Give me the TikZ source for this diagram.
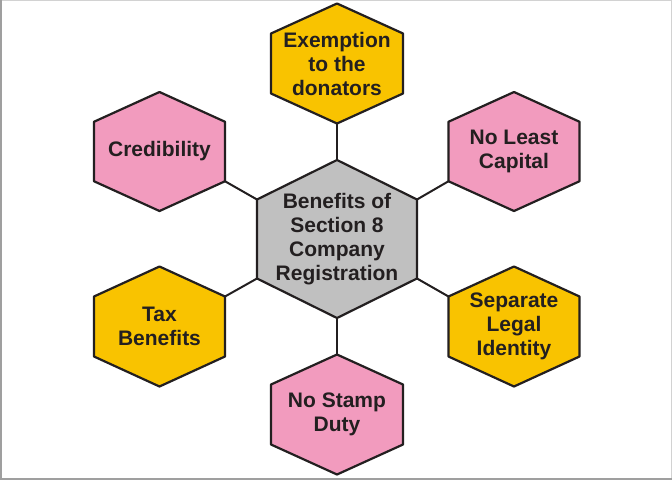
\documentclass[tikz,border=0pt]{standalone}
\usepackage{fontspec}
\setmainfont{Liberation Sans}
\usetikzlibrary{calc}
\definecolor{hexyellow}{RGB}{249,195,0}
\definecolor{hexpink}{RGB}{242,155,190}
\definecolor{hexgray}{RGB}{192,192,192}
\definecolor{ink}{RGB}{35,31,32}
% #1 name, #2 centre, #3 half width, #4 half height, #5 fill, #6 text
\newcommand{\hexbox}[6]{%
  \draw[hexline,fill=#5] (#2) ++(0,-#4) coordinate (#1-t)
    -- ++(#3,#4/2) coordinate (#1-tr) -- ++(0,#4) coordinate (#1-br)
    -- ++(-#3,#4/2) coordinate (#1-b) -- ++(-#3,-#4/2) coordinate (#1-bl)
    -- ++(0,-#4) coordinate (#1-tl) -- cycle;
  \node[hextext] (#1) at (#2) {#6};}
\begin{document}
\begin{tikzpicture}[x=1pt, y=-1pt, line join=round,
    hexline/.style={draw=ink, line width=2.2pt},
    hextext/.style={text=ink, align=center, font=\fontsize{21}{24}\selectfont\bfseries},
    link/.style={draw=ink, line width=2pt}]
  \useasboundingbox (0,0) rectangle (672,480);
  \fill[white] (0,0) rectangle (672,480);
  % frame
  \draw[gray!35, line width=1pt] (0,0.5) -- (672,0.5);
  \draw[gray!35, line width=1pt] (671.5,0) -- (671.5,480);
  \draw[gray!75, line width=2pt] (1,0) -- (1,480);
  \draw[gray!75, line width=2pt] (0,479) -- (672,479);
  % hexagons
  \hexbox{main}{337,239}{80}{79}{hexgray}{Benefits of\\Section 8\\Company\\Registration}
  \hexbox{donor}{337,63.5}{66}{60}{hexyellow}{Exemption\\to the\\donators}
  \hexbox{cred}{159.5,151.5}{65.5}{59.5}{hexpink}{Credibility}
  \hexbox{capital}{514,151.5}{65.5}{59.5}{hexpink}{No Least\\Capital}
  \hexbox{tax}{159.5,326.5}{65.5}{60}{hexyellow}{Tax\\Benefits}
  \hexbox{legal}{514,326.5}{65.5}{60}{hexyellow}{Separate\\Legal\\Identity}
  \hexbox{stamp}{337,414.5}{66}{60}{hexpink}{No Stamp\\Duty}
  % connectors
  \draw[link] (main-t) -- (donor-b);
  \draw[link] (main-tl) -- (cred-br);
  \draw[link] (main-tr) -- (capital-bl);
  \draw[link] (main-bl) -- (tax-tr);
  \draw[link] (main-br) -- (legal-tl);
  \draw[link] (main-b) -- (stamp-t);
\end{tikzpicture}
\end{document}
